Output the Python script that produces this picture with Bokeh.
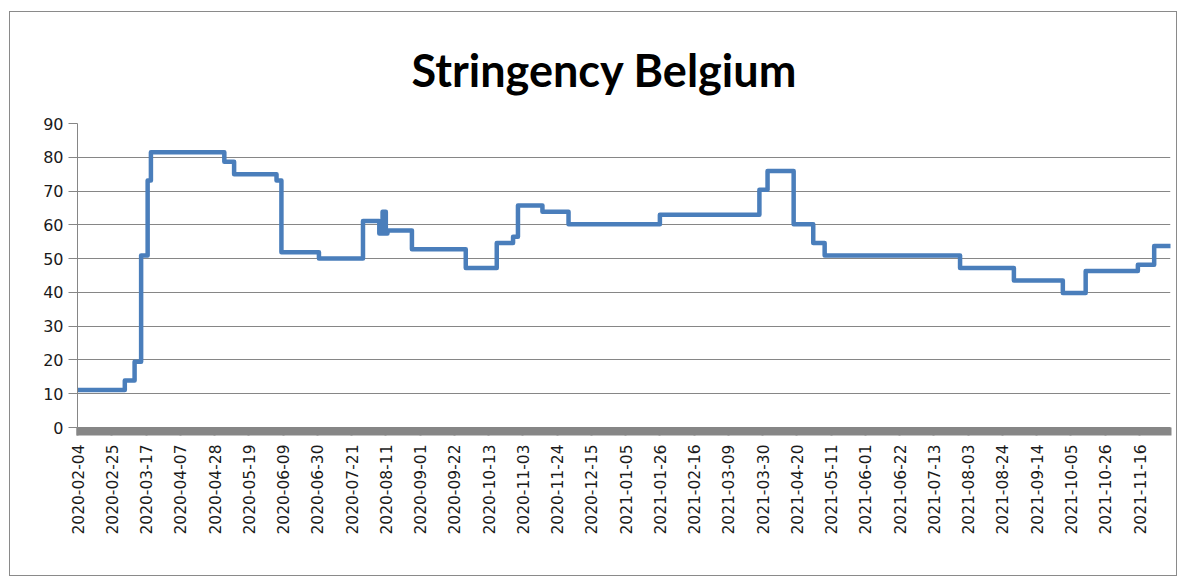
import pandas as pd
from bokeh.plotting import figure
from bokeh.models import FixedTicker, DatetimeTickFormatter, Range1d, ColumnDataSource
from bokeh.embed import file_html
from bokeh.resources import INLINE

# ---- data ----
change_dates = [
    "2020-02-04", "2020-03-04", "2020-03-10", "2020-03-14", "2020-03-18",
    "2020-03-20", "2020-05-04", "2020-05-10", "2020-06-05", "2020-06-08",
    "2020-07-01", "2020-07-28", "2020-08-07", "2020-08-09", "2020-08-11",
    "2020-08-12", "2020-08-27", "2020-09-29", "2020-10-18", "2020-10-28",
    "2020-10-31", "2020-11-15", "2020-12-01", "2021-01-26", "2021-03-28",
    "2021-04-02", "2021-04-18", "2021-04-30", "2021-05-07", "2021-07-29",
    "2021-08-31", "2021-09-30", "2021-10-14", "2021-11-15", "2021-11-25",
    "2021-12-05",
]
stringency = [
    11.11, 13.89, 19.44, 50.93, 73.15,
    81.48, 78.70, 75.00, 73.15, 51.85,
    50.00, 61.11, 57.41, 63.89, 57.41,
    58.33, 52.78, 47.22, 54.63, 56.48,
    65.74, 63.89, 60.19, 62.96, 70.37,
    75.93, 60.19, 54.63, 50.93, 47.22,
    43.52, 39.81, 46.30, 48.15, 53.70,
    53.70,
]
tick_labels = [
    "2020-02-04", "2020-02-25", "2020-03-17", "2020-04-07", "2020-04-28",
    "2020-05-19", "2020-06-09", "2020-06-30", "2020-07-21", "2020-08-11",
    "2020-09-01", "2020-09-22", "2020-10-13", "2020-11-03", "2020-11-24",
    "2020-12-15", "2021-01-05", "2021-01-26", "2021-02-16", "2021-03-09",
    "2021-03-30", "2021-04-20", "2021-05-11", "2021-06-01", "2021-06-22",
    "2021-07-13", "2021-08-03", "2021-08-24", "2021-09-14", "2021-10-05",
    "2021-10-26", "2021-11-16",
]
y_ticks = [0, 10, 20, 30, 40, 50, 60, 70, 80, 90]
title_text = "Stringency Belgium"

# ---- build ----
dates = pd.to_datetime(change_dates)
src = ColumnDataSource(dict(date=dates, value=stringency))

def to_ms(ts):
    return [int(t.value // 10**6) for t in ts]

major_ms = to_ms(pd.to_datetime(tick_labels))
minor_ms = to_ms(pd.date_range(dates[0], dates[-1], freq="D"))

GRAY = "#868686"
TXT = "#1a1a1a"

p = figure(
    width=1168, height=565,
    x_axis_type="datetime",
    x_range=Range1d(dates[0], dates[-1]),
    y_range=Range1d(0, 90),
    output_backend="svg", toolbar_location=None,
    min_border_left=67, min_border_right=8,
    min_border_top=111, min_border_bottom=150,
    title=title_text,
)
p.styles = {"border": "1px solid #8a8a8a", "margin-left": "9px", "margin-top": "11px"}
p.background_fill_color = "white"
p.border_fill_color = "white"
p.outline_line_color = None

p.title.align = "left"
p.title.offset = 334
p.title.text_font = "Lato"
p.title.text_font_style = "bold"
p.title.text_font_size = "45px"
p.title.text_color = "#000000"
p.title.standoff = 54

p.step(x="date", y="value", source=src, mode="after",
       line_width=4.5, line_color="#4A7EBB", line_join="round", line_cap="round")

# x axis
xax = p.xaxis[0]
xax.ticker = FixedTicker(ticks=major_ms, minor_ticks=minor_ms)
xax.formatter = DatetimeTickFormatter(
    microseconds="%Y-%m-%d", milliseconds="%Y-%m-%d", seconds="%Y-%m-%d",
    minsec="%Y-%m-%d", minutes="%Y-%m-%d", hourmin="%Y-%m-%d", hours="%Y-%m-%d",
    days="%Y-%m-%d", months="%Y-%m-%d", years="%Y-%m-%d", context=None,
)
xax.major_label_orientation = 1.5707963267948966
xax.axis_line_color = GRAY
xax.major_tick_line_color = GRAY
xax.major_tick_line_width = 2
xax.major_tick_out = 8
xax.major_tick_in = 0
xax.minor_tick_line_color = GRAY
xax.minor_tick_line_width = 2
xax.minor_tick_out = 8
xax.minor_tick_in = 0
xax.major_label_standoff = 9
xax.major_label_text_font = "DejaVu Sans"
xax.major_label_text_font_size = "15.5px"
xax.major_label_text_color = TXT

# y axis
yax = p.yaxis[0]
yax.ticker = FixedTicker(ticks=y_ticks)
yax.axis_line_color = GRAY
yax.major_tick_line_color = GRAY
yax.major_tick_out = 9
yax.major_tick_in = 0
yax.minor_tick_line_color = None
yax.major_label_standoff = 5
yax.major_label_text_font = "DejaVu Sans"
yax.major_label_text_font_size = "16px"
yax.major_label_text_color = TXT

p.xgrid.visible = False
p.ygrid.ticker = FixedTicker(ticks=y_ticks)
p.ygrid.grid_line_color = GRAY
p.ygrid.grid_line_width = 1

open("out.html", "w").write(file_html(p, INLINE))
